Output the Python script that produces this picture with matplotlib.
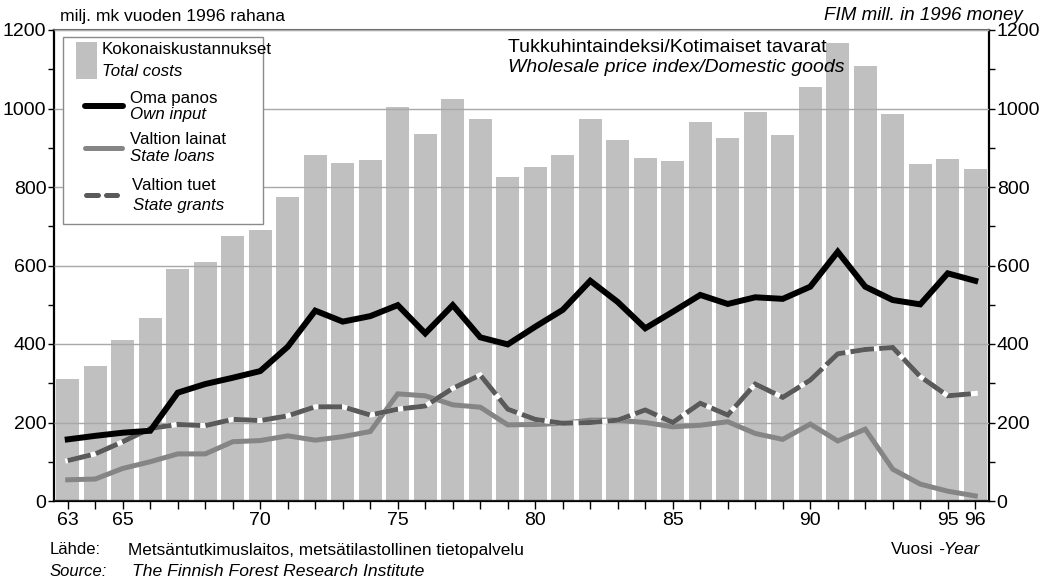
import matplotlib
matplotlib.use("Agg")
import matplotlib.pyplot as plt
from matplotlib.patches import Rectangle
from matplotlib.lines import Line2D

plt.rcParams['font.family'] = ['Liberation Sans', 'DejaVu Sans']
plt.rcParams['lines.scale_dashes'] = False

# ---- data ----
years = list(range(1963, 1997))
total_costs = [312, 344, 409, 466, 590, 609, 675, 690, 775, 882, 861, 868, 1004, 936,
               1025, 973, 826, 851, 881, 972, 921, 874, 866, 966, 925, 990, 932, 1055,
               1166, 1108, 985, 859, 871, 846]
own_input = [157, 166, 174, 179, 276, 298, 314, 331, 393, 485, 457, 471, 499, 427,
             499, 417, 399, 444, 487, 561, 507, 440, 482, 525, 502, 519, 515, 546,
             635, 546, 512, 501, 580, 561]
state_loans = [54, 56, 83, 100, 120, 120, 151, 154, 166, 155, 164, 177, 273, 268,
               245, 239, 194, 195, 198, 206, 206, 200, 189, 193, 202, 172, 157, 196,
               153, 183, 81, 43, 25, 13]
state_grants = [103, 120, 151, 185, 195, 192, 208, 205, 217, 240, 240, 219, 234, 242,
                287, 321, 234, 208, 198, 200, 206, 232, 200, 249, 219, 298, 264, 308,
                375, 386, 391, 317, 268, 274]
xtick_years = [1963, 1965, 1970, 1975, 1980, 1985, 1990, 1995, 1996]
xtick_labels = ['63', '65', '70', '75', '80', '85', '90', '95', '96']
yticks = [0, 200, 400, 600, 800, 1000, 1200]
yminor = [100, 300, 500, 700, 900, 1100]

W, H = 1043, 583
fig = plt.figure(figsize=(W / 100, H / 100), dpi=100)
ax = fig.add_axes([54 / W, 1 - 501 / H, (989 - 54) / W, (501 - 30) / H])

ax.bar(years, total_costs, width=0.85, color='#c0c0c0', zorder=1)
ax.plot(years, state_loans, color='#858585', lw=3.6, solid_joinstyle='miter', zorder=3)
ax.plot(years, state_grants, color='white', lw=3.6, solid_joinstyle='miter', zorder=4)
ax.plot(years, state_grants, color='#5a5a5a', lw=3.6, dashes=(17, 3.8),
        dash_capstyle='butt', dash_joinstyle='miter', zorder=4.1)
ax.plot(years, own_input, color='#000000', lw=4.3, solid_joinstyle='miter', zorder=5)

ax.set_xlim(1962.5, 1996.5)
ax.set_ylim(0, 1200)
ax.set_axisbelow(False)
ax.set_xticks(years, minor=True)
ax.set_xticks(xtick_years)
ax.set_xticklabels(xtick_labels)
ax.set_yticks(yticks)
ax.set_yticks(yminor, minor=True)
ax.yaxis.grid(True, which='major', color='#a8a8a8', lw=1.0)
ax.tick_params(axis='y', which='both', left=True, right=True, labelleft=True,
               labelright=True, direction='out', length=4.5, width=1.0,
               labelsize=14, pad=0.5)
ax.tick_params(axis='y', which='major', pad=1)
ax.tick_params(axis='x', which='both', direction='out', length=6, width=1.0,
               labelsize=14, pad=2)
for side in ['left', 'bottom', 'right']:
    ax.spines[side].set_linewidth(1.6)
    ax.spines[side].set_color('black')
ax.spines['top'].set_linewidth(1.5)
ax.spines['top'].set_color('#707070')

def fx(px):
    return px / W

def fy(py):
    return 1 - py / H

T = fig.transFigure
# legend box
fig.add_artist(Rectangle((fx(63), fy(224)), fx(263) - fx(63), fy(37) - fy(224),
                         transform=T, facecolor='white', edgecolor='#8a8a8a',
                         lw=1.0, zorder=10))
fig.add_artist(Rectangle((fx(76), fy(79)), fx(97) - fx(76), fy(42) - fy(79),
                         transform=T, facecolor='#c0c0c0', edgecolor='none', zorder=11))
fig.add_artist(Line2D([fx(85), fx(123)], [fy(106), fy(106)], transform=T,
                      color='black', lw=4.3, solid_capstyle='round', zorder=11))
fig.add_artist(Line2D([fx(85), fx(122)], [fy(148), fy(148)], transform=T,
                      color='#858585', lw=3.6, solid_capstyle='round', zorder=11))
fig.add_artist(Line2D([fx(86), fx(98)], [fy(195), fy(195)], transform=T,
                      color='#5a5a5a', lw=3.6, solid_capstyle='round', zorder=11))
fig.add_artist(Line2D([fx(106), fx(117)], [fy(195), fy(195)], transform=T,
                      color='#5a5a5a', lw=3.6, solid_capstyle='round', zorder=11))

def ftext(px, py, s, italic=False, size=12, ha='left'):
    fig.text(fx(px), fy(py), s, ha=ha, va='center', fontsize=size,
             style='italic' if italic else 'normal', zorder=12)

ftext(102, 49, 'Kokonaiskustannukset', size=12.2)
ftext(102, 71, 'Total costs', italic=True, size=12.2)
ftext(130, 98, 'Oma panos', size=12.2)
ftext(130, 115, 'Own input', italic=True, size=12.2)
ftext(130, 140, 'Valtion lainat', size=12.2)
ftext(130, 157, 'State loans', italic=True, size=12.2)
ftext(132, 185, 'Valtion tuet', size=12.2)
ftext(133, 206, 'State grants', italic=True, size=12.2)

ftext(508, 47, 'Tukkuhintaindeksi/Kotimaiset tavarat', size=14)
ftext(508, 67, 'Wholesale price index/Domestic goods', italic=True, size=14)

ftext(60, 16, 'milj. mk vuoden 1996 rahana', size=12.6)
ftext(1023, 16, 'FIM mill. in 1996 money', italic=True, size=13.5, ha='right')

ftext(50, 550, 'Lähde:')
ftext(128, 550, 'Metsäntutkimuslaitos, metsätilastollinen tietopalvelu', size=12.4)
ftext(50, 571, 'Source:', italic=True)
ftext(132, 571, 'The Finnish Forest Research Institute', italic=True, size=12.6)
ftext(938, 550, '-Year', italic=True, ha='left', size=12.4)
ftext(934, 550, 'Vuosi', ha='right', size=12.4)

fig.savefig('out.png', dpi=100)
